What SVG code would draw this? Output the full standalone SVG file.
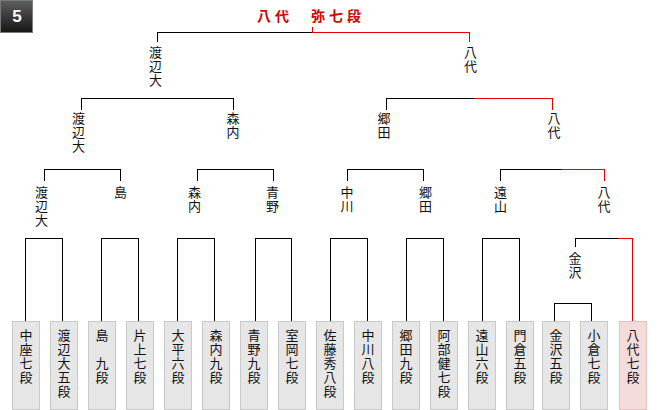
<svg xmlns="http://www.w3.org/2000/svg" width="660" height="410" viewBox="0 0 660 410">
<defs>
<linearGradient id="bg" x1="0" y1="0" x2="0" y2="1">
<stop offset="0" stop-color="#5e5e5e"/>
<stop offset="1" stop-color="#161616"/>
</linearGradient>
</defs>
<style>
.n{font-family:"Noto Sans CJK JP","Noto Sans CJK SC",sans-serif;font-size:13px;fill:#111;writing-mode:vertical-rl;text-orientation:upright;letter-spacing:1px}
.b{fill:#e6e6e6;stroke:#c9c9c9;stroke-width:1;shape-rendering:crispEdges}
.bw{fill:#f5dcdc;stroke:#e3c2c2;stroke-width:1;shape-rendering:crispEdges}
.k{fill:none;stroke:#000;stroke-width:1}
.r{fill:none;stroke:#e00000;stroke-width:1}
.t{font-family:"Noto Sans CJK JP","Noto Sans CJK SC",sans-serif;font-size:14px;font-weight:bold;fill:#d80000;letter-spacing:4px}
</style>
<rect width="660" height="410" fill="#fff"/>
<g id="badge">
<rect x="0.5" y="0.5" width="32" height="32" fill="url(#bg)" stroke="#7a7a7a"/>
<text x="17" y="21.5" font-family="Liberation Sans, Arial, sans-serif" font-size="17" font-weight="bold" fill="#fff" text-anchor="middle">5</text>
</g>
<g id="title"><text class="t" x="257" y="21">八代　弥七段</text></g>
<g id="connectors" shape-rendering="crispEdges">
<path class="k" d="M157.5 42V32.5H312.5"/>
<path class="r" d="M312.5 27V32.5H469.5V42"/>
<path class="k" d="M81.5 110V98.5H233.5V110"/>
<path class="k" d="M386.5 110V98.5H474"/>
<path class="r" d="M474 98.5H552.5V110"/>
<path class="k" d="M44.5 181V169.5H120.5V181M197.5 181V169.5H273.5V181M347.5 181V169.5H423.5V181M500.5 181V169.5H562"/>
<path class="r" d="M562 169.5H604.5V181"/>
<path class="k" d="M25.5 321V238.5H62.5V321M101.5 321V238.5H138.5V321M177.5 321V238.5H214.5V321M255.5 321V238.5H291.5V321M330.5 321V238.5H367.5V321M406.5 321V238.5H443.5V321M482.5 321V238.5H519.5V321M575.5 247V238.5H618M554.5 321V303.5H591.5V321"/>
<path class="r" d="M618 238.5H632.5V321"/>
</g>
<g id="w-final-l"><text class="n" x="155.5" y="46">渡辺大</text></g>
<g id="w-final-r"><text class="n" x="470.5" y="46">八代</text></g>
<g id="w-sf-1"><text class="n" x="78.5" y="112">渡辺大</text></g>
<g id="w-sf-2"><text class="n" x="233" y="112">森内</text></g>
<g id="w-sf-3"><text class="n" x="384" y="112">郷田</text></g>
<g id="w-sf-4"><text class="n" x="554" y="112">八代</text></g>
<g id="w-qf-1"><text class="n" x="41.5" y="186">渡辺大</text></g>
<g id="w-qf-2"><text class="n" x="120.5" y="186">島</text></g>
<g id="w-qf-3"><text class="n" x="194.5" y="186">森内</text></g>
<g id="w-qf-4"><text class="n" x="272.5" y="186">青野</text></g>
<g id="w-qf-5"><text class="n" x="347" y="186">中川</text></g>
<g id="w-qf-6"><text class="n" x="425.5" y="186">郷田</text></g>
<g id="w-qf-7"><text class="n" x="500.5" y="186">遠山</text></g>
<g id="w-qf-8"><text class="n" x="604" y="186">八代</text></g>
<g id="w-pre"><text class="n" x="575" y="252">金沢</text></g>
<g id="p01"><rect class="b" x="12.5" y="321.5" width="27" height="88"/><text class="n" x="26" y="329">中座七段</text></g>
<g id="p02"><rect class="b" x="50.5" y="321.5" width="27" height="88"/><text class="n" x="64" y="329">渡辺大五段</text></g>
<g id="p03"><rect class="b" x="88.5" y="321.5" width="27" height="88"/><text class="n" x="102" y="329">島　九段</text></g>
<g id="p04"><rect class="b" x="126.5" y="321.5" width="27" height="88"/><text class="n" x="140" y="329">片上七段</text></g>
<g id="p05"><rect class="b" x="164.5" y="321.5" width="27" height="88"/><text class="n" x="178" y="329">大平六段</text></g>
<g id="p06"><rect class="b" x="202.5" y="321.5" width="27" height="88"/><text class="n" x="216" y="329">森内九段</text></g>
<g id="p07"><rect class="b" x="240.5" y="321.5" width="27" height="88"/><text class="n" x="254" y="329">青野九段</text></g>
<g id="p08"><rect class="b" x="278.5" y="321.5" width="27" height="88"/><text class="n" x="292" y="329">室岡七段</text></g>
<g id="p09"><rect class="b" x="316.5" y="321.5" width="27" height="88"/><text class="n" x="330" y="329">佐藤秀八段</text></g>
<g id="p10"><rect class="b" x="354.5" y="321.5" width="27" height="88"/><text class="n" x="368" y="329">中川八段</text></g>
<g id="p11"><rect class="b" x="392.5" y="321.5" width="27" height="88"/><text class="n" x="406" y="329">郷田九段</text></g>
<g id="p12"><rect class="b" x="430.5" y="321.5" width="27" height="88"/><text class="n" x="444" y="329">阿部健七段</text></g>
<g id="p13"><rect class="b" x="468.5" y="321.5" width="27" height="88"/><text class="n" x="482" y="329">遠山六段</text></g>
<g id="p14"><rect class="b" x="506.5" y="321.5" width="27" height="88"/><text class="n" x="520" y="329">門倉五段</text></g>
<g id="p15"><rect class="b" x="542.5" y="321.5" width="27" height="88"/><text class="n" x="556" y="329">金沢五段</text></g>
<g id="p16"><rect class="b" x="580.5" y="321.5" width="27" height="88"/><text class="n" x="594" y="329">小倉七段</text></g>
<g id="p17"><rect class="bw" x="619.5" y="321.5" width="27" height="88"/><text class="n" x="633" y="329">八代七段</text></g>
</svg>
